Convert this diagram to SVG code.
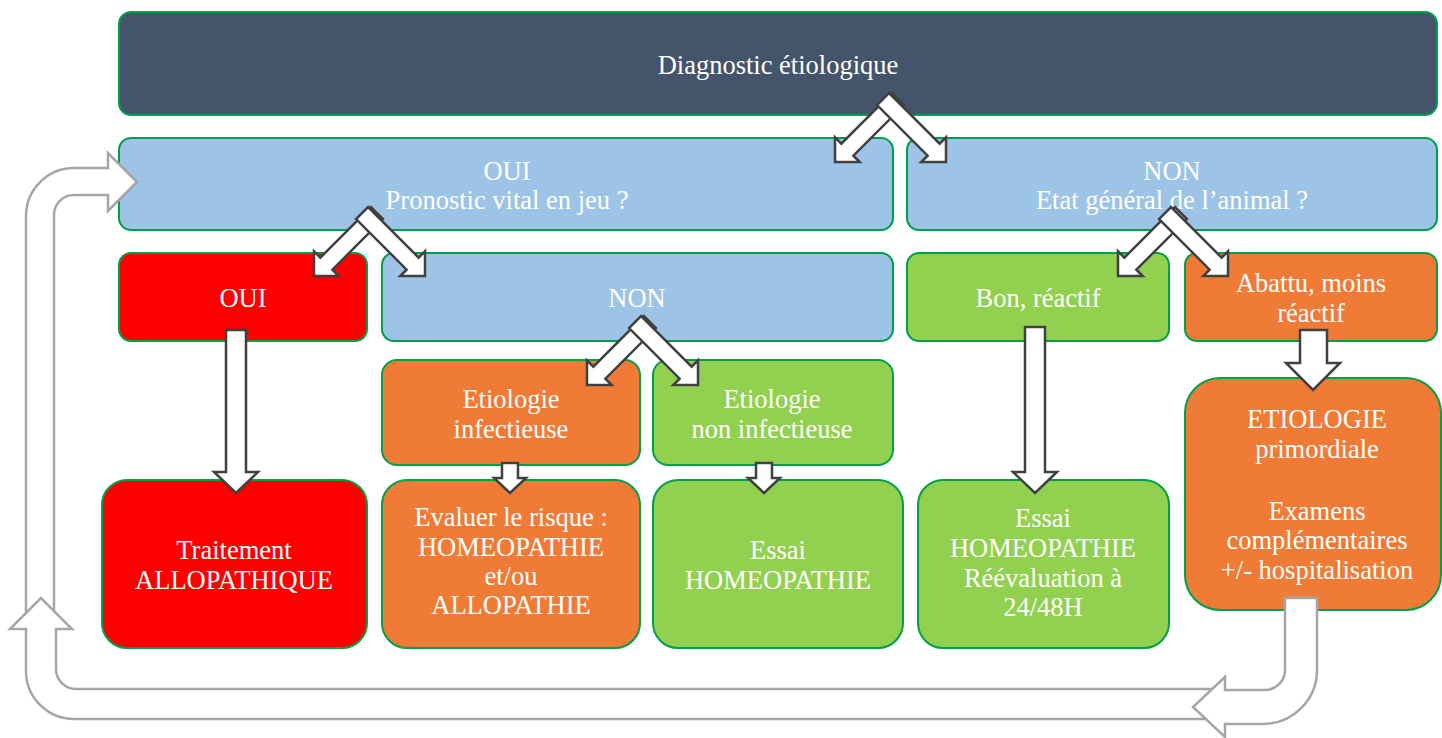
<svg xmlns="http://www.w3.org/2000/svg" width="1442" height="738" viewBox="0 0 1442 738">
<style>
.box{stroke:#00A04A;stroke-width:2}
.dark{fill:#44546A}.blue{fill:#9DC3E6}.red{fill:#FF0000}.orange{fill:#EF7B36}.green{fill:#92D050}
text{font-family:"Liberation Serif","Times New Roman",serif;font-size:26.5px;fill:#FFFFFF;text-anchor:middle}
.barrow{fill:#FFFFFF;stroke:#404040;stroke-width:2.5;stroke-linejoin:miter}
.loop{fill:#FFFFFF;stroke:#A6A6A6;stroke-width:2.5;stroke-linejoin:miter}
</style>
<defs>
<path id="diag" d="M0,0 L-17.5,-17.5 L-17.5,-8.5 L-89,-8.5 L-89,8.5 L-17.5,8.5 L-17.5,17.5 Z"/>
</defs>
<g id="n-diagnostic"><rect class="box dark" x="119" y="12" width="1318" height="103" rx="12"/><text x="778" y="74">Diagnostic étiologique</text></g>
<g id="n-oui"><rect class="box blue" x="119" y="138" width="774" height="92" rx="12"/><text x="507" y="180">OUI</text><text x="507" y="209">Pronostic vital en jeu ?</text></g>
<g id="n-non"><rect class="box blue" x="907" y="138" width="530" height="92" rx="12"/><text x="1172" y="180">NON</text><text x="1172" y="209">Etat général de l’animal ?</text></g>
<g id="n-oui2"><rect class="box red" x="119" y="253" width="248" height="88" rx="12"/><text x="243" y="307">OUI</text></g>
<g id="n-non2"><rect class="box blue" x="382" y="253" width="511" height="88" rx="12"/><text x="637" y="307">NON</text></g>
<g id="n-bon"><rect class="box green" x="907" y="253" width="262" height="88" rx="12"/><text x="1038" y="307">Bon, réactif</text></g>
<g id="n-abattu"><rect class="box orange" x="1185" y="253" width="252" height="88" rx="12"/><text x="1311" y="292">Abattu, moins</text><text x="1311" y="322">réactif</text></g>
<g id="n-infect"><rect class="box orange" x="382" y="360" width="258" height="105" rx="15"/><text x="511" y="408">Etiologie</text><text x="511" y="438">infectieuse</text></g>
<g id="n-noninfect"><rect class="box green" x="653" y="360" width="240" height="105" rx="15"/><text x="772" y="408">Etiologie</text><text x="772" y="438">non infectieuse</text></g>
<g id="n-etio"><rect class="box orange" x="1185" y="378" width="256" height="232" rx="35"/><text x="1317" y="428">ETIOLOGIE</text><text x="1317" y="458">primordiale</text><text x="1317" y="520">Examens</text><text x="1317" y="549">complémentaires</text><text x="1317" y="579">+/- hospitalisation</text></g>
<g id="n-traitement"><rect class="box red" x="102" y="480" width="265" height="168" rx="25"/><text x="234" y="559">Traitement</text><text x="234" y="589">ALLOPATHIQUE</text></g>
<g id="n-evaluer"><rect class="box orange" x="382" y="480" width="258" height="168" rx="25"/><text x="511" y="526">Evaluer le risque :</text><text x="511" y="556">HOMEOPATHIE</text><text x="511" y="585">et/ou</text><text x="511" y="614">ALLOPATHIE</text></g>
<g id="n-essai1"><rect class="box green" x="653" y="480" width="250" height="168" rx="25"/><text x="778" y="559">Essai</text><text x="778" y="589">HOMEOPATHIE</text></g>
<g id="n-essai2"><rect class="box green" x="918" y="480" width="251" height="168" rx="25"/><text x="1043" y="527">Essai</text><text x="1043" y="557">HOMEOPATHIE</text><text x="1043" y="587">Réévaluation à</text><text x="1043" y="616">24/48H</text></g>
<g id="connectors">
<path class="loop" d="M26,615 L26,216 A48,48 0 0 1 74,168 L108,168 L108,153 L137,182 L108,211 L108,195 L74,195 A20,20 0 0 0 54,215 L54,615 Z"/>
<path class="loop" d="M1215,719 L74,719 A48,48 0 0 1 26,671 L26,629 L10,629 L41,598 L72,629 L56,629 L56,669 A20,20 0 0 0 76,689 L1215,689 Z"/>
<path class="loop" d="M1285,598 L1317,598 L1317,670 A54,54 0 0 1 1263,724 L1225,724 L1225,737 L1193,707 L1225,677 L1225,690 L1265,690 A20,20 0 0 0 1285,670 Z"/>
<use href="#diag" class="barrow" transform="translate(835,162) rotate(135)"/>
<use href="#diag" class="barrow" transform="translate(946,162) rotate(45)"/>
<use href="#diag" class="barrow" transform="translate(314,276) rotate(135)"/>
<use href="#diag" class="barrow" transform="translate(425,276) rotate(45)"/>
<use href="#diag" class="barrow" transform="translate(587,385) rotate(135)"/>
<use href="#diag" class="barrow" transform="translate(698,385) rotate(45)"/>
<use href="#diag" class="barrow" transform="translate(1118,276) rotate(135)"/>
<use href="#diag" class="barrow" transform="translate(1228,276) rotate(45)"/>
<path class="barrow" d="M226,330 L246,330 L246,472 L258,472 L236,493 L214,472 L226,472 Z"/>
<path class="barrow" d="M1025,327 L1045,327 L1045,472 L1057,472 L1035,493 L1013,472 L1025,472 Z"/>
<path class="barrow" d="M1300,330 L1327,330 L1327,363 L1340,363 L1313,390 L1286,363 L1300,363 Z"/>
<path class="barrow" d="M502,463 L518,463 L518,478 L526,478 L510,493 L494,478 L502,478 Z"/>
<path class="barrow" d="M756,463 L772,463 L772,478 L780,478 L764,493 L748,478 L756,478 Z"/>
</g>
</svg>
